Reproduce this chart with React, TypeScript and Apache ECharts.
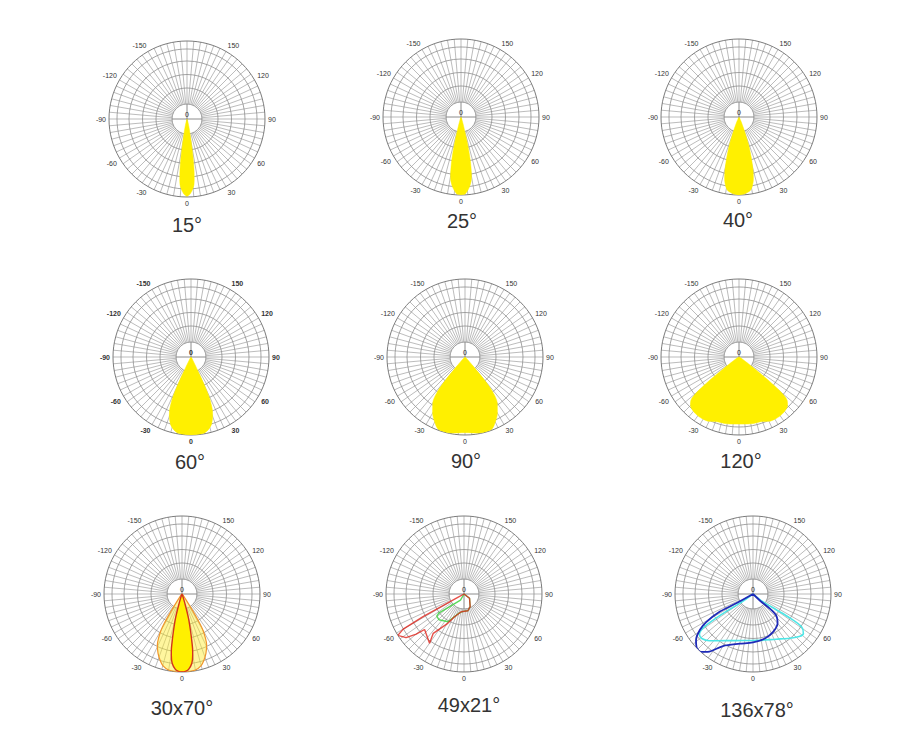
import React, { useEffect, useRef } from 'react';
import * as echarts from 'echarts';

// ---------- axis definition ----------
const ANGLE_MIN = -180;
const ANGLE_MAX = 180;
const ANGLE_STEP = 5;
const LABEL_STEP = 30;
const RADIUS_MAX = 100;

const TITLES = ['15°', '25°', '40°', '60°', '90°', '120°', '30x70°', '49x21°', '136x78°'];

// ---------- data: [relative intensity, angle] ----------
const BEAM_15: [number, number][] = [
  [0, -30], [1, -20], [5, -16], [13, -13], [24, -11], [35, -10], [49, -9], [64, -8], [76, -7], [85, -6], [92, -4], [97, -2],
  [99, 0],
  [97, 2], [92, 4], [85, 6], [76, 7], [64, 8], [49, 9], [35, 10], [24, 11], [13, 13], [5, 16], [1, 20], [0, 30],
];
const BEAM_25: [number, number][] = [
  [0, -30], [3, -20], [8, -17], [18, -15], [31, -14], [45, -13], [58, -12], [68, -11], [77, -10], [83, -9], [90, -7], [95, -5], [99, -3],
  [100, 0],
  [99, 3], [95, 5], [90, 7], [83, 9], [77, 10], [68, 11], [58, 12], [45, 13], [31, 14], [18, 15], [8, 17], [3, 20], [0, 30],
];
const BEAM_40: [number, number][] = [
  [0, -40], [1, -30], [6, -25], [15, -22], [28, -20], [38, -19], [53, -17], [69, -15], [82, -13], [90, -11], [95, -9], [97, -7], [99, -4],
  [100, 0],
  [99, 4], [97, 7], [95, 9], [90, 11], [82, 13], [69, 15], [53, 17], [38, 19], [28, 20], [15, 22], [6, 25], [1, 30], [0, 40],
];
const BEAM_60: [number, number][] = [
  [0, -50], [1, -40], [5, -30], [15, -27], [32, -26], [49, -25], [60, -24], [73, -22], [81, -20], [90, -17], [95, -14], [99, -10], [100, -5],
  [100, 0],
  [100, 5], [99, 10], [95, 14], [90, 17], [81, 20], [73, 22], [60, 24], [49, 25], [32, 26], [15, 27], [5, 30], [1, 40], [0, 50],
];
const BEAM_90: [number, number][] = [
  [0, -70], [1, -55], [5, -45], [13, -42], [26, -41], [42, -40], [60, -38], [72, -35], [83, -30], [92, -25], [99, -20], [99, -10],
  [97, 0],
  [99, 10], [99, 20], [92, 25], [83, 30], [72, 35], [60, 38], [42, 40], [26, 41], [13, 42], [5, 45], [1, 55], [0, 70],
];
const BEAM_120: [number, number][] = [
  [0, -80], [1, -70], [4, -60], [12, -55], [26, -53], [41, -52], [58, -51], [71, -50], [83, -48], [88, -45], [91, -40], [92, -35], [92, -30], [91, -25], [88, -20], [87, -10],
  [86, 0],
  [87, 10], [88, 20], [91, 25], [92, 30], [92, 35], [91, 40], [88, 45], [83, 48], [71, 50], [58, 51], [41, 52], [26, 53], [12, 55], [4, 60], [1, 70], [0, 80],
];
const BEAM_70_WIDE: [number, number][] = [
  [0, -50], [3, -40], [8, -35], [19, -33], [32, -32], [45, -31], [54, -30], [64, -28], [72, -26], [82, -22], [90, -18], [95, -15], [99, -10], [100, -5],
  [100, 0],
  [100, 5], [99, 10], [95, 15], [90, 18], [82, 22], [72, 26], [64, 28], [54, 30], [45, 31], [32, 32], [19, 33], [8, 35], [3, 40], [0, 50],
];
const BEAM_30_NARROW: [number, number][] = [
  [0, -30], [4, -20], [13, -17], [22, -16], [32, -15], [40, -14], [49, -13], [59, -12], [71, -11], [79, -10], [90, -8], [97, -5], [99, -3],
  [100, 0],
  [99, 3], [97, 5], [90, 8], [79, 10], [71, 11], [59, 12], [49, 13], [40, 14], [32, 15], [22, 16], [13, 17], [4, 20], [0, 30],
];
const ASYM_RED: [number, number][] = [
  [0, -62], [9, -62], [60, -61], [90, -60], [100, -58], [93, -53], [80, -50], [68, -48], [77, -35], [64, -38], [43, -29], [32, -23],
  [23, -9], [22, 13], [18, 26], [9, 52], [0, 52],
];
const ASYM_GREEN: [number, number][] = [
  [0, -30], [9, -30], [25, -49], [40, -53], [45, -51], [46, -44], [41, -30], [25, -14], [22, 0], [22, 13], [18, 26], [9, 52], [0, 52],
];
const WIDE_CYAN: [number, number][] = [
  [0, -55], [21, -55], [46, -57], [75, -56], [86, -53], [87, -49], [82, -43], [69, -30], [61, -12], [60, 8], [65, 27], [74, 40],
  [81, 48], [82, 52], [75, 56], [56, 57], [36, 56], [16, 52], [0, 52],
];
const WIDE_BLUE: [number, number][] = [
  [0, -61], [24, -61], [48, -62], [70, -59], [82, -56], [94, -51], [100, -46], [100, -42], [94, -38], [77, -30], [66, -15], [62, 0],
  [59, 15], [55, 28], [49, 40], [41, 47], [28, 49], [14, 47], [0, 47],
];

// ---------- layout & style ----------
const CENTERS: [number, number][] = [
  [187, 119], [461, 117], [739, 117],
  [191, 357], [465, 357], [739, 357],
  [182, 594], [464, 594], [753, 594],
];
const TITLE_POS: [number, number][] = [
  [187, 225], [462, 221], [738, 220],
  [190, 462], [466, 461], [741, 461],
  [182, 708], [469, 705], [757, 710],
];
const R_OUT = 78;
const HOLE_R = 15;
const RING_R = [31, 44.5, 58, 70];
const GRID_COLOR = '#8e8e8e';
const YELLOW = '#FFF000';

type Curve = { data: [number, number][]; fill?: string; stroke: string; width: number; smooth: number; opacity?: number };

const CURVES: Curve[][] = [
  [{ data: BEAM_15, fill: YELLOW, stroke: YELLOW, width: 0.5, smooth: 0.3 }],
  [{ data: BEAM_25, fill: YELLOW, stroke: YELLOW, width: 0.5, smooth: 0.3 }],
  [{ data: BEAM_40, fill: YELLOW, stroke: YELLOW, width: 0.5, smooth: 0.3 }],
  [{ data: BEAM_60, fill: YELLOW, stroke: YELLOW, width: 0.5, smooth: 0.3 }],
  [{ data: BEAM_90, fill: YELLOW, stroke: YELLOW, width: 0.5, smooth: 0.3 }],
  [{ data: BEAM_120, fill: YELLOW, stroke: YELLOW, width: 0.5, smooth: 0.3 }],
  [
    { data: BEAM_70_WIDE, fill: 'rgba(255,236,40,0.45)', stroke: '#F0962C', width: 1.2, smooth: 0.3 },
    { data: BEAM_30_NARROW, fill: YELLOW, stroke: '#D2341C', width: 1.4, smooth: 0.3 },
  ],
  [
    { data: ASYM_GREEN, stroke: '#3ED23E', width: 1.4, smooth: 0, opacity: 0.85 },
    { data: ASYM_RED, stroke: '#E0241C', width: 1.4, smooth: 0, opacity: 0.8 },
  ],
  [
    { data: WIDE_CYAN, stroke: '#4EE6E6', width: 1.6, smooth: 0.3 },
    { data: WIDE_BLUE, stroke: '#1E2AB8', width: 1.8, smooth: 0.3 },
  ],
];

function buildOption() {
  const polar = CENTERS.map((c) => ({ center: c, radius: [0, R_OUT] }));
  const angleAxis = CENTERS.map((_, i) => ({
    polarIndex: i,
    type: 'value',
    min: ANGLE_MIN,
    max: ANGLE_MAX,
    interval: ANGLE_STEP,
    startAngle: 90,
    clockwise: false,
    axisLine: { show: true, lineStyle: { color: '#7c7c7c', width: 1 } },
    axisTick: { show: false },
    axisLabel: {
      show: true,
      margin: 3,
      fontSize: 7,
      color: '#333',
      fontFamily: 'Liberation Sans, Arial, sans-serif',
      fontWeight: i === 3 ? 'bold' : 'normal',
      formatter: (v: number) => {
        const n = Math.round(v);
        return n % LABEL_STEP === 0 && Math.abs(n) !== 180 ? String(n) : '';
      },
    },
    splitLine: { show: true, lineStyle: { color: GRID_COLOR, width: 0.6 } },
  }));
  const radiusAxis = CENTERS.map((_, i) => ({
    polarIndex: i,
    type: 'value',
    min: 0,
    max: RADIUS_MAX,
    show: false,
  }));

  const series: any[] = [];
  CURVES.forEach((curves, i) => {
    curves.forEach((c) => {
      series.push({
        type: 'line',
        coordinateSystem: 'polar',
        polarIndex: i,
        data: c.data,
        symbol: 'none',
        showSymbol: false,
        smooth: c.smooth,
        silent: true,
        z: 5,
        lineStyle: { color: c.stroke, width: c.width, opacity: c.opacity ?? 1 },
        areaStyle: c.fill ? { color: c.fill, opacity: 1 } : undefined,
      });
    });
  });

  const elements: any[] = [];
  CENTERS.forEach(([cx, cy], i) => {
    RING_R.forEach((r) => {
      elements.push({ type: 'circle', z: 1, silent: true, shape: { cx, cy, r }, style: { fill: 'none', stroke: GRID_COLOR, lineWidth: 0.8 } });
    });
    elements.push({ type: 'circle', z: 1, silent: true, shape: { cx, cy, r: HOLE_R }, style: { fill: '#ffffff', stroke: GRID_COLOR, lineWidth: 0.8 } });
    elements.push({ type: 'line', z: 1, silent: true, shape: { x1: cx - HOLE_R, y1: cy, x2: cx + HOLE_R, y2: cy }, style: { stroke: '#6e6e6e', lineWidth: 0.8 } });
    elements.push({ type: 'line', z: 1, silent: true, shape: { x1: cx, y1: cy - HOLE_R, x2: cx, y2: cy + HOLE_R }, style: { stroke: '#6e6e6e', lineWidth: 0.8 } });
    elements.push({
      type: 'text', z: 1, silent: true, x: cx, y: cy - 1,
      style: { text: '0', fill: '#333', fontSize: 7, fontFamily: 'Liberation Sans, Arial, sans-serif', fontWeight: i === 3 ? 'bold' : 'normal', textAlign: 'center', align: 'center', textVerticalAlign: 'bottom', verticalAlign: 'bottom' },
    });
    const [tx, ty] = TITLE_POS[i];
    elements.push({
      type: 'text', z: 6, silent: true, x: tx, y: ty,
      style: { text: TITLES[i], fill: '#333', fontSize: 20, fontFamily: 'Liberation Sans, Arial, sans-serif', textAlign: 'center', align: 'center', textVerticalAlign: 'middle', verticalAlign: 'middle' },
    });
  });

  return {
    animation: false,
    backgroundColor: '#ffffff',
    polar,
    angleAxis,
    radiusAxis,
    series,
    graphic: { elements },
  };
}

export default function App() {
  const ref = useRef<HTMLDivElement>(null);
  useEffect(() => {
    if (!ref.current) return;
    const chart = echarts.init(ref.current, undefined, { renderer: 'svg' });
    chart.setOption(buildOption() as any);
    return () => chart.dispose();
  }, []);
  return <div ref={ref} style={{ position: 'absolute', left: 0, top: 0, width: 900, height: 750, background: '#fff' }} />;
}
